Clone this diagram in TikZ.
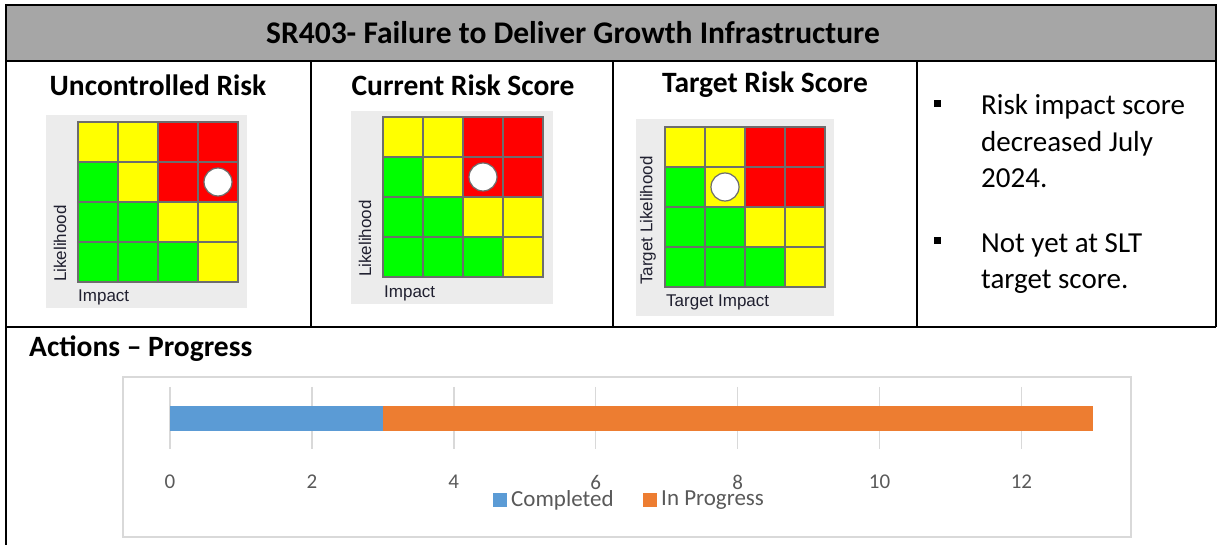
\documentclass[tikz,border=0pt]{standalone}
\usepackage{fontspec}
\setmainfont{Carlito}
\newfontfamily\axisfont{Liberation Sans}
\definecolor{hdrgray}{HTML}{A6A6A6}
\definecolor{panelgray}{HTML}{ECECEC}
\definecolor{celly}{HTML}{FFFF00}
\definecolor{cellr}{HTML}{FF0000}
\definecolor{cellg}{HTML}{00FF00}
\definecolor{cellline}{HTML}{6D6D6D}
\definecolor{gridgray}{HTML}{D9D9D9}
\definecolor{donebl}{HTML}{5B9BD5}
\definecolor{progor}{HTML}{ED7D31}
\definecolor{ticktext}{HTML}{595959}
\definecolor{axistext}{HTML}{202030}
\begin{document}
\begin{tikzpicture}[x=1pt,y=-1pt,
  heading/.style={font=\bfseries\fontsize{29.5}{34}\selectfont,inner sep=0pt},
  bullettext/.style={anchor=base west,align=left,inner sep=0pt,font=\fontsize{29}{36.5}\selectfont},
  axislabel/.style={font=\axisfont\fontsize{17}{20}\selectfont,text=axistext,inner sep=0pt},
  ticklabel/.style={font=\fontsize{21}{24}\selectfont,text=ticktext,inner sep=0pt},
  legendtext/.style={font=\fontsize{23}{26}\selectfont,text=ticktext,inner sep=0pt,anchor=west},
  tableline/.style={line width=2pt},
  marker/.style={shape=circle,draw=cellline,line width=1.2pt,fill=white,minimum size=28pt,inner sep=0pt}]

\useasboundingbox (0,0) rectangle (1219,545);

% header row
\fill[hdrgray] (6,5) rectangle (1216,61);
\node(title) at (266,33)[heading,anchor=west,font=\bfseries\fontsize{31.5}{36}\selectfont]
  {SR403- Failure to Deliver Growth Infrastructure};

% table rules
\draw[tableline] (6,545) -- (6,5) -- (1216,5) -- (1216,327);
\draw[tableline] (6,61) -- (1216,61);
\draw[tableline] (6,327) -- (1216,327);
\draw[tableline] (311,61) -- (311,327);
\draw[tableline] (613,61) -- (613,327);
\draw[tableline] (917,61) -- (917,327);

\node(uncontrolled) at (158,85)[heading] {Uncontrolled Risk};
\node(current)      at (463,85)[heading] {Current Risk Score};
\node(target)       at (765,85)[heading] {Target Risk Score};

% risk matrices
\fill[panelgray] (46,115) rectangle (247,308);
\fill[panelgray] (351,111) rectangle (553,304);
\fill[panelgray] (636,119) rectangle (834,316);
\foreach \ox/\oy in {78/122, 383/117, 665/127}{
  \foreach \cols [count=\r from 0] in {{celly,celly,cellr,cellr},{cellg,celly,cellr,cellr},
      {cellg,cellg,celly,celly},{cellg,cellg,cellg,celly}}{
    \foreach \c [count=\i from 0] in \cols
      \filldraw[fill=\c,draw=cellline,line width=1.3pt]
        (\ox+40*\i,\oy+40*\r) rectangle ++(40,40);
  }
}
\node(uncdot) at (218,182)[marker] {};
\node(curdot) at (483,177)[marker] {};
\node(tgtdot) at (725,187)[marker] {};

\node(unclik) at (60,282)[axislabel,rotate=90,anchor=west] {Likelihood};
\node(uncimp) at (78,297)[axislabel,anchor=west] {Impact};
\node(curlik) at (365,277)[axislabel,rotate=90,anchor=west] {Likelihood};
\node(curimp) at (384,293)[axislabel,anchor=west] {Impact};
\node(tgtlik) at (648,285)[axislabel,rotate=90,anchor=west] {Target Likelihood};
\node(tgtimp) at (666,302)[axislabel,anchor=west] {Target Impact};

% commentary
\fill (934,100) rectangle (941,107);
\node(note1) at (981,188)[bullettext] {Risk impact score\\decreased July\\2024.};
\fill (934,237) rectangle (941,244);
\node(note2) at (981,289)[bullettext] {Not yet at SLT\\target score.};

% actions chart
\node(actions) at (29,349)[heading,anchor=west] {Actions -- Progress};
\draw[gridgray,line width=1.5pt] (123,377) rectangle (1131,537);
\foreach \v [count=\k from 0] in {0,2,4,6,8,10,12}{
  \draw[gridgray,line width=1.5pt] (170+141.9*\k,387) -- (170+141.9*\k,449);
  \node(tick\v) at (170+141.9*\k,482)[ticklabel] {\v};
}
\fill[donebl] (170,406) rectangle (383,431);
\fill[progor] (383,406) rectangle (1093,431);

\fill[donebl] (493,493) rectangle (507,507);
\node(keydone) at (511,500)[legendtext] {Completed};
\fill[progor] (643,493) rectangle (657,507);
\node(keyprog) at (661,500)[legendtext] {In Progress};

\end{tikzpicture}
\end{document}
